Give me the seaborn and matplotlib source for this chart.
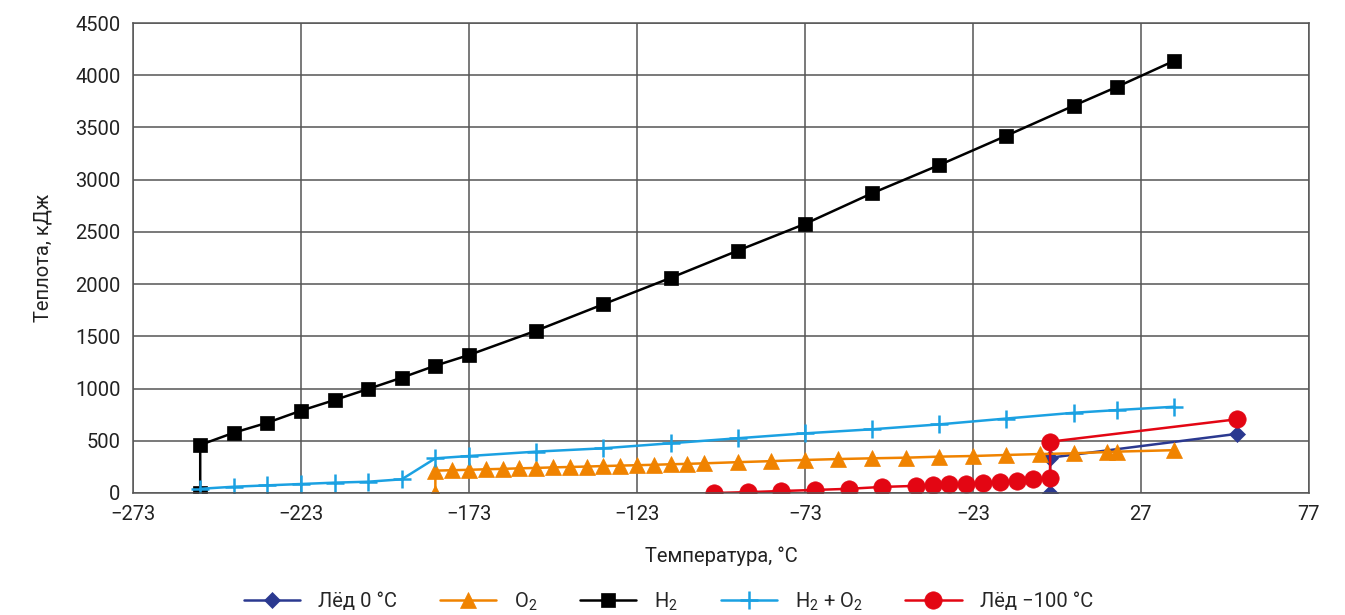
import matplotlib
matplotlib.use("Agg")
import matplotlib.pyplot as plt
import pandas as pd
import seaborn as sns

# temperatures in °C, heat in kJ
ice0_t = [0, 0, 55.6]
ice0_q = [0, 338, 566]

o2_t = [-183, -183, -178, -173, -168, -163, -158, -153, -148, -143, -138, -133, -128,
        -123, -118, -113, -108, -103, -93, -83, -73, -63, -53, -43, -33, -23, -13,
        -3, 7, 17, 20, 37]
o2_q = [0, 214, 218, 222, 227, 231, 236, 240, 245, 249, 253, 258, 262,
        266, 270, 275, 279, 284, 295, 305, 316, 325, 332, 338, 348, 354, 364,
        373, 380, 392, 396, 410]

h2_t = [-253, -253, -243, -233, -223, -213, -203, -193, -183, -173, -153, -133, -113,
        -93, -73, -53, -33, -13, 7, 20, 37]
h2_q = [0, 460, 577, 673, 788, 890, 996, 1104, 1219, 1321, 1554, 1807, 2059,
        2320, 2576, 2870, 3140, 3421, 3708, 3890, 4139]

mix_t = [-253, -243, -233, -223, -213, -203, -193, -183, -173, -153, -133, -113,
         -93, -73, -53, -33, -13, 7, 20, 37]
mix_q = [40, 60, 73, 86, 99, 108, 131, 332, 354, 396, 428, 476,
         524, 571, 610, 657, 713, 768, 794, 826]

ice100_t = [-100, -90, -80, -70, -60, -50, -40, -35, -30, -25, -20, -15, -10, -5, 0, 0, 55.6]
ice100_q = [0, 8, 19, 29, 40, 58, 68, 76, 83, 90, 99, 108, 118, 130, 140, 491, 706]

series = [
    ("Лёд 0 °C", ice0_t, ice0_q, "#2b3990", "D", 8),
    ("O$_2$", o2_t, o2_q, "#f08300", "^", 11),
    ("H$_2$", h2_t, h2_q, "#000000", "s", 10.5),
    ("H$_2$ + O$_2$", mix_t, mix_q, "#1ba1e2", "+", 13),
    ("Лёд −100 °C", ice100_t, ice100_q, "#e30613", "o", 12.5),
]

sns.set_style("white")
plt.rcParams['font.family'] = ['Roboto', 'DejaVu Sans']
plt.rcParams['mathtext.fontset'] = 'custom'
plt.rcParams['mathtext.rm'] = 'Roboto'

fig = plt.figure(figsize=(13.45, 6.15), dpi=100)
ax = fig.add_axes([0.0989, 0.1984, 0.8742, 0.7642])

for name, t, q, col, mk, ms in series:
    df = pd.DataFrame({"t": t, "q": q})
    sns.lineplot(data=df, x="t", y="q", ax=ax, sort=False, estimator=None,
                 color=col, linewidth=1.8, marker=mk, markersize=ms,
                 markeredgecolor=col, markeredgewidth=1.8 if mk == "+" else 0.5,
                 label=name)

ax.set_xlim(-273, 77)
ax.set_ylim(0, 4500)
ax.set_xticks(range(-273, 78, 50))
ax.set_yticks(range(0, 4501, 500))
ax.grid(True, color="#555555", linewidth=1.1)
ax.set_axisbelow(True)
for sp in ax.spines.values():
    sp.set_color("#555555")
    sp.set_linewidth(1.1)
ax.tick_params(length=0, labelsize=14.5, pad=9, colors="#222222")
ax.set_xlabel("Температура, °C", fontsize=14.5, labelpad=16, color="#222222")
ax.set_ylabel("Теплота, кДж", fontsize=14.5, labelpad=16, color="#222222")

handles, labels = ax.get_legend_handles_labels()
ax.legend_.remove()
fig.legend(handles, labels, loc="center", bbox_to_anchor=(0.497, 0.022), ncol=5,
           frameon=False, fontsize=14.5, handlelength=2.8, columnspacing=2.1,
           handletextpad=0.9)

fig.savefig("out.png", dpi=100)
